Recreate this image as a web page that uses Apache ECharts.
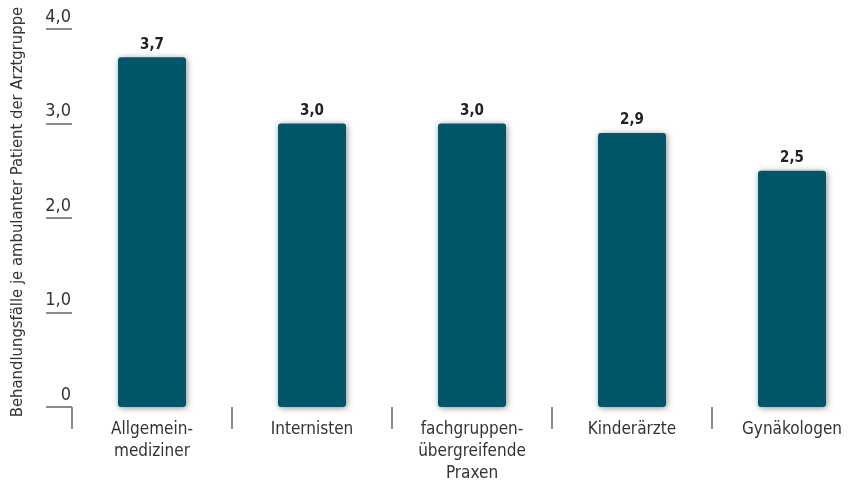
<!DOCTYPE html>
<html>
<head>
<meta charset="utf-8">
<script src="https://cdn.jsdelivr.net/npm/echarts@6/dist/echarts.min.js"></script>
<style>
  html, body { margin: 0; padding: 0; background: #ffffff; }
  #chart { width: 868px; height: 484px; }
</style>
</head>
<body>
<div id="chart"></div>
<script>
// Behandlungsfälle je ambulanter Patient, nach Arztgruppe
const categories = ['Allgemein-\nmediziner', 'Internisten', 'fachgruppen-\nübergreifende\nPraxen', 'Kinderärzte', 'Gynäkologen'];
const values = [3.7, 3.0, 3.0, 2.9, 2.5];
const yTicks = [0, 1, 2, 3, 4];
const yTitle = 'Behandlungsfälle je ambulanter Patient der Arztgruppe';

const FONT = "'Liberation Sans Narrow', 'DejaVu Sans Condensed', 'Noto Sans', sans-serif";
const fmt = v => (v === 0 ? '0' : v.toFixed(1).replace('.', ','));

const chart = echarts.init(document.getElementById('chart'), null, { renderer: 'canvas' });
chart.setOption({
  backgroundColor: '#ffffff',
  animation: false,
  grid: { left: 72, top: 29, width: 800, bottom: 77, containLabel: false, outerBoundsMode: 'none' },
  xAxis: {
    type: 'category',
    data: categories,
    boundaryGap: true,
    axisLine: { show: false },
    axisTick: { show: true, interval: 0, length: 22, lineStyle: { color: '#666666', width: 1.5 } },
    axisLabel: {
      interval: 0, margin: 12, color: '#333333', fontFamily: FONT, fontSize: 17, lineHeight: 22
    }
  },
  yAxis: {
    type: 'value',
    min: yTicks[0],
    max: yTicks[yTicks.length - 1],
    interval: 1,
    name: yTitle,
    nameLocation: 'middle',
    nameGap: 46,
    nameRotate: 90,
    nameTextStyle: { color: '#333333', fontFamily: FONT, fontSize: 16.5, padding: [0, 0, 0, 12] },
    axisLine: { show: false },
    splitLine: { show: false },
    axisTick: { show: true, length: 26, lineStyle: { color: '#666666', width: 1.5 } },
    axisLabel: {
      margin: 1, color: '#333333', fontFamily: FONT, fontSize: 18,
      verticalAlign: 'bottom', padding: [0, 0, 3, 0],
      formatter: fmt
    }
  },
  series: [{
    type: 'bar',
    data: values,
    barWidth: 68,
    itemStyle: {
      color: '#02566a',
      borderRadius: 3,
      shadowBlur: 6,
      shadowColor: 'rgba(0,0,0,0.45)',
      shadowOffsetX: 1,
      shadowOffsetY: 1
    },
    label: {
      show: true, position: 'top', distance: 5,
      color: '#222222', fontFamily: FONT, fontSize: 15, fontWeight: 'bold',
      formatter: p => fmt(p.value)
    }
  }]
});
</script>
</body>
</html>
